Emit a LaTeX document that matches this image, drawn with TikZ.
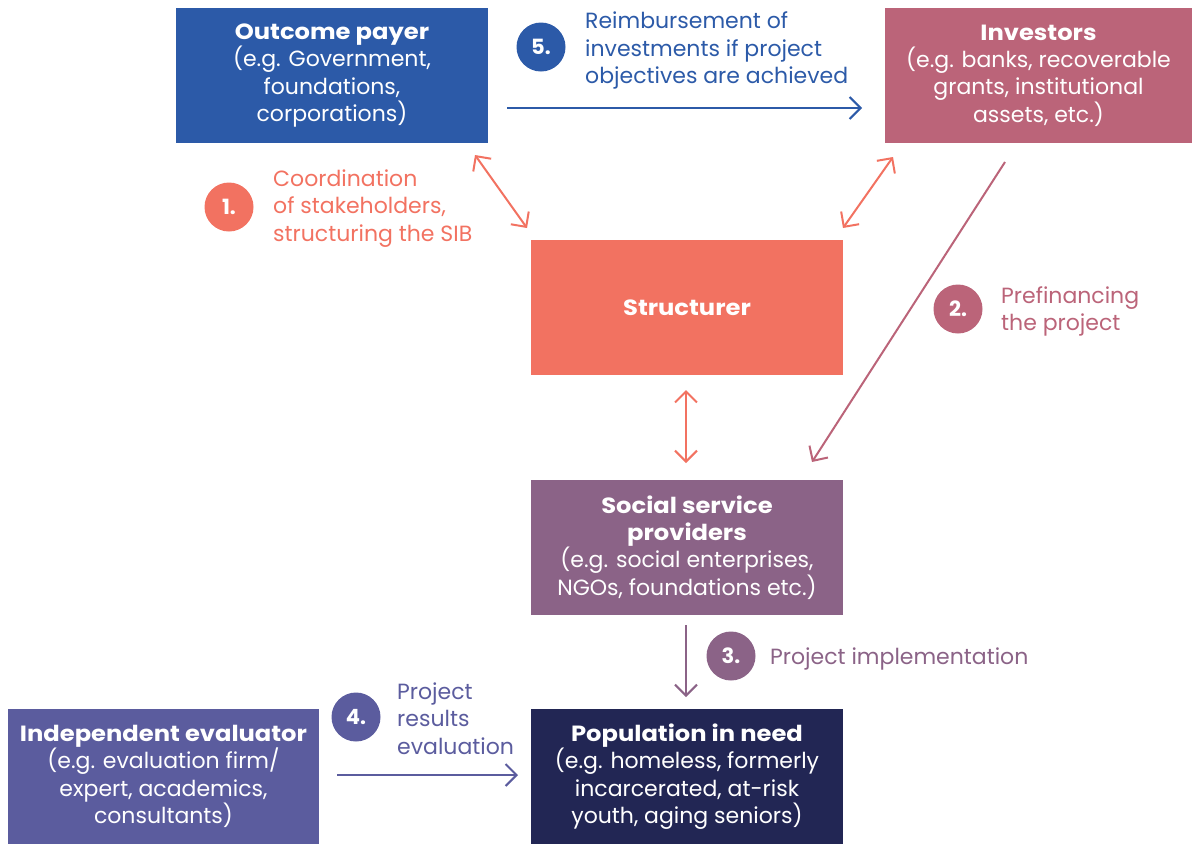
\documentclass[tikz,border=0pt]{standalone}
\usepackage{fontspec}
\setmainfont{Poppins}
\newfontfamily\titlefont[FakeStretch=1.1]{Poppins}
\usetikzlibrary{arrows.meta}

\definecolor{payblue}{HTML}{2C5AA8}
\definecolor{invrose}{HTML}{BB6479}
\definecolor{strsalmon}{HTML}{F27261}
\definecolor{ssppurple}{HTML}{8B6387}
\definecolor{popnavy}{HTML}{222654}
\definecolor{evalindigo}{HTML}{5B5C9E}

\newcommand{\partyname}[1]{{\titlefont\bfseries #1}}

\tikzset{
  actor/.style={rectangle, minimum width=312pt, minimum height=135pt, inner sep=0pt,
    align=center, text=white, font=\fontsize{22}{27.3}\selectfont},
  stepnum/.style={circle, minimum size=49pt, inner sep=0pt, text=white,
    font=\fontsize{21}{24}\selectfont\bfseries},
  steptext/.style={anchor=west, align=left, inner sep=0pt, yshift=-2.5pt,
    font=\fontsize{22}{27.3}\selectfont},
  flow/.style={line width=2pt, -{Straight Barb[length=11pt,width=22pt,line width=2pt]}},
  twoway/.style={line width=2pt, {Straight Barb[length=11pt,width=22pt,line width=2pt]}-{Straight Barb[length=11pt,width=22pt,line width=2pt]}}
}

\begin{document}
\begin{tikzpicture}[x=1pt,y=-1pt]
\useasboundingbox (0,0) rectangle (1192,844);

% the six parties
\node[actor, fill=payblue] (payer) at (332,75.5)
  {\partyname{Outcome payer}\\(e.g. Government,\\foundations,\\corporations)};
\node[actor, fill=invrose, minimum width=307pt] (investors) at (1038.5,75.5)
  {\partyname{Investors}\\(e.g. banks, recoverable\\grants, institutional\\assets, etc.)};
\node[actor, fill=strsalmon] (structurer) at (687,307.5) {\partyname{Structurer}};
\node[actor, fill=ssppurple] (providers) at (687,547.5)
  {\partyname{Social service}\\\partyname{providers}\\(e.g. social enterprises,\\NGOs, foundations etc.)};
\node[actor, fill=popnavy] (population) at (687,776.5)
  {\partyname{Population in need}\\(e.g. homeless, formerly\\incarcerated, at-risk\\youth, aging seniors)};
\node[actor, fill=evalindigo, minimum width=311pt] (evaluator) at (163.5,776.5)
  {\partyname{Independent evaluator}\\(e.g. evaluation firm/\\expert, academics,\\consultants)};

% arrow ends
\coordinate (r5a) at (507,108);   \coordinate (r5b) at (862,108);
\coordinate (c1a) at (475,155);   \coordinate (c1b) at (527,228);
\coordinate (ci_a) at (893,157);  \coordinate (ci_b) at (843,228);
\coordinate (sp_a) at (686,390);  \coordinate (sp_b) at (686,463);
\coordinate (p2a) at (1005,162);  \coordinate (p2b) at (812,462);
\coordinate (i3a) at (686,625);   \coordinate (i3b) at (686,697);
\coordinate (e4a) at (337,775);   \coordinate (e4b) at (518,775);

\draw[flow, payblue] (r5a) -- (r5b);
\draw[twoway, strsalmon] (c1a) -- (c1b);
\draw[twoway, strsalmon] (ci_a) -- (ci_b);
\draw[twoway, strsalmon] (sp_a) -- (sp_b);
\draw[flow, invrose] (p2a) -- (p2b);
\draw[flow, ssppurple] (i3a) -- (i3b);
\draw[flow, evalindigo] (e4a) -- (e4b);

% numbered steps
\node[stepnum, fill=strsalmon] (n1) at (229,207) {1.};
\node[steptext, text=strsalmon] (t1) at (273,206)
  {Coordination\\of stakeholders,\\structuring the SIB};
\node[stepnum, fill=invrose] (n2) at (958,309) {2.};
\node[steptext, text=invrose] (t2) at (1001,309) {Prefinancing\\the project};
\node[stepnum, fill=ssppurple] (n3) at (731,656) {3.};
\node[steptext, text=ssppurple] (t3) at (770,656) {Project implementation};
\node[stepnum, fill=evalindigo] (n4) at (356,717) {4.};
\node[steptext, text=evalindigo] (t4) at (397,716) {Project\\results\\evaluation};
\node[stepnum, fill=payblue] (n5) at (541,47) {5.};
\node[steptext, text=payblue] (t5) at (585,48)
  {Reimbursement of\\investments if project\\objectives are achieved};

\end{tikzpicture}
\end{document}
